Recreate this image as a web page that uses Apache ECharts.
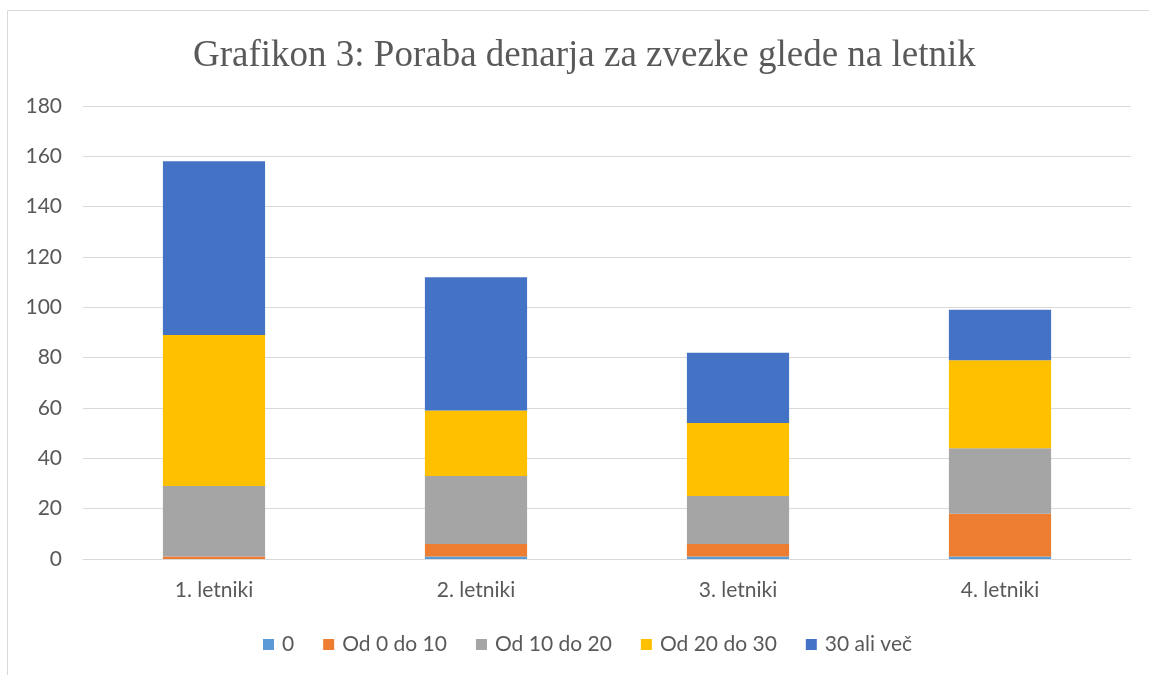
<!DOCTYPE html>
<html>
<head>
<meta charset="utf-8">
<script src="https://cdn.jsdelivr.net/npm/echarts@6/dist/echarts.min.js"></script>
<style>
html,body{margin:0;padding:0;background:#fff;}
#chart{width:1149px;height:675px;}
</style>
</head>
<body>
<div id="chart"></div>
<script>
var categories = ['1. letniki', '2. letniki', '3. letniki', '4. letniki'];
var seriesNames = ['0', 'Od 0 do 10', 'Od 10 do 20', 'Od 20 do 30', '30 ali več'];
var zero = [0, 1, 1, 1];
var od0do10 = [1, 5, 5, 17];
var od10do20 = [28, 27, 19, 26];
var od20do30 = [60, 26, 29, 35];
var ali30vec = [69, 53, 28, 20];
var colors = ['#5B9BD5', '#ED7D31', '#A5A5A5', '#FFC000', '#4472C4'];

var allData = [zero, od0do10, od10do20, od20do30, ali30vec];
var chart = echarts.init(document.getElementById('chart'));
var series = allData.map(function (d, i) {
  return {
    name: seriesNames[i],
    type: 'bar',
    stack: 'total',
    data: d,
    barWidth: '39%',
    itemStyle: { color: colors[i] }
  };
});
chart.setOption({
  animation: false,
  title: {
    text: 'Grafikon 3: Poraba denarja za zvezke glede na letnik',
    left: 188,
    top: 33,
    textStyle: { fontFamily: 'Liberation Serif', fontSize: 37, fontWeight: 'normal', color: '#595959' }
  },
  graphic: [{
    type: 'rect',
    shape: { x: 7.5, y: 10.5, width: 1200, height: 700 },
    style: { fill: 'none', stroke: '#d9d9d9', lineWidth: 1 },
    silent: true
  }],
  legend: {
    bottom: 15,
    left: 258,
    itemWidth: 11,
    itemHeight: 11,
    itemGap: 29,
    icon: 'rect',
    textStyle: { fontFamily: 'Lato', fontSize: 21, color: '#595959', padding: [0, 0, 0, 3] },
    data: seriesNames
  },
  grid: { left: 83, right: 18, top: 106, bottom: 116, containLabel: false },
  xAxis: {
    type: 'category',
    data: categories,
    axisLine: { lineStyle: { color: '#d9d9d9', width: 1 } },
    axisTick: { show: false },
    axisLabel: { fontFamily: 'Lato', fontSize: 21, color: '#595959', margin: 21 }
  },
  yAxis: {
    type: 'value',
    min: 0,
    max: 180,
    interval: 20,
    axisLine: { show: false },
    axisTick: { show: false },
    splitLine: { lineStyle: { color: '#d9d9d9', width: 1 } },
    axisLabel: { fontFamily: 'Lato', fontSize: 21, color: '#595959', margin: 21 }
  },
  series: series
});
</script>
</body>
</html>
